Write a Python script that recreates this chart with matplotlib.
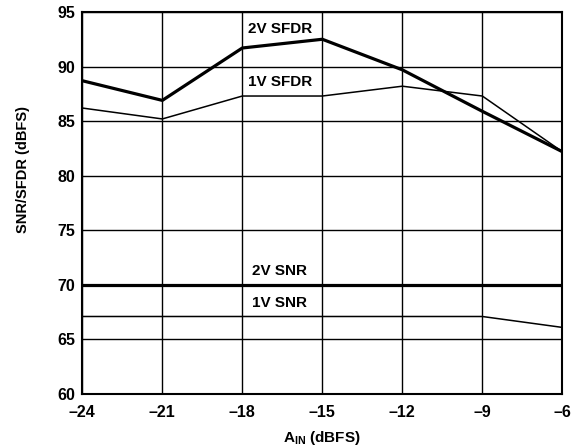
import matplotlib
matplotlib.use("Agg")
import matplotlib.pyplot as plt

# ---------------------------------------------------------------------------
# Data
# ---------------------------------------------------------------------------
AIN = [-24, -21, -18, -15, -12, -9, -6]
SFDR_2V = [88.7, 86.9, 91.7, 92.5, 89.7, 85.9, 82.2]
SFDR_1V = [86.2, 85.2, 87.3, 87.3, 88.2, 87.3, 82.2]
SNR_2V = [70.0, 70.0, 70.0, 70.0, 70.0, 70.0, 70.0]
SNR_1V = [67.1, 67.1, 67.1, 67.1, 67.1, 67.1, 66.1]

X_TICKS = [-24, -21, -18, -15, -12, -9, -6]
Y_TICKS = [60, 65, 70, 75, 80, 85, 90, 95]

plt.rcParams.update({
    "font.family": ["Liberation Sans", "DejaVu Sans"],
    "font.weight": "bold",
    "mathtext.fontset": "custom",
    "mathtext.rm": "Liberation Sans:bold",
    "mathtext.it": "Liberation Sans:bold",
    "mathtext.bf": "Liberation Sans:bold",
})

fig = plt.figure(figsize=(5.83, 4.47), dpi=100)
ax = fig.add_axes([0.1412, 0.1186, 0.8233, 0.8546])

ax.plot(AIN, SFDR_2V, color="black", lw=2.3, zorder=3)
ax.plot(AIN, SFDR_1V, color="black", lw=1.1, zorder=3)
ax.plot(AIN, SNR_2V, color="black", lw=2.3, zorder=3)
ax.plot(AIN, SNR_1V, color="black", lw=1.1, zorder=3)

lab = dict(ha="center", va="center", fontsize=11, fontweight="bold")
ax.text(-16.6, 93.45, "2V SFDR", **lab)
ax.text(-16.6, 88.6, "1V SFDR", **lab)
ax.text(-16.6, 71.3, "2V SNR", **lab)
ax.text(-16.6, 68.3, "1V SNR", **lab)

ax.set_xlim(-24, -6)
ax.set_ylim(60, 95)
ax.set_xticks(X_TICKS)
ax.set_yticks(Y_TICKS)
ax.set_xticklabels([f"\u2013{abs(v)}" for v in X_TICKS])
ax.tick_params(length=0, labelsize=11.5)
ax.tick_params(axis="x", pad=8)
ax.tick_params(axis="y", pad=5)
ax.grid(True, color="black", lw=1.0)
ax.set_axisbelow(True)
for s in ax.spines.values():
    s.set_linewidth(1.5)

ax.set_xlabel(r"A$_{\mathrm{IN}}$ (dBFS)", fontsize=11, fontweight="bold")
ax.xaxis.set_label_coords(0.5, -0.115)
ax.xaxis.label.set_va("center")
ax.set_ylabel("SNR/SFDR (dBFS)", fontsize=10.5, fontweight="bold")
ax.yaxis.set_label_coords(-0.1235, 0.588)
ax.yaxis.label.set_va("center")

fig.savefig("out.png", dpi=100)
